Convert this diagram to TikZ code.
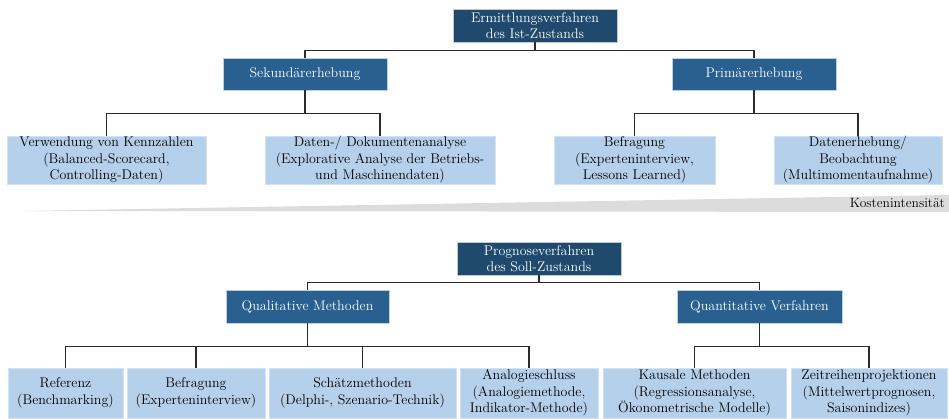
\documentclass[tikz,border=0pt]{standalone}
\usetikzlibrary{positioning}
\definecolor{darkblue}{HTML}{1F4A6D}
\definecolor{midblue}{HTML}{2A6090}
\definecolor{lightblue}{HTML}{B5D0EA}
\definecolor{wedgegray}{HTML}{DCDCDC}
\definecolor{linegray}{HTML}{2B2B2B}
\tikzstyle{box} = [rectangle, inner sep=0pt, align=center, font=\fontsize{14}{16.5}\selectfont]
\tikzstyle{root} = [box, fill=darkblue, draw=white!70!darkblue, text=white]
\tikzstyle{branch} = [box, fill=midblue, draw=white!70!midblue, text=white]
\tikzstyle{leaf} = [box, fill=lightblue, draw=white!40!lightblue, text=black, minimum height=48pt]
\tikzstyle{tree} = [draw=linegray, line width=1.2pt]

\begin{document}
\begin{tikzpicture}[x=1pt, y=-1pt]
\useasboundingbox (0,0) rectangle (949,419);

% Ist-Zustand
\node [root, minimum width=164pt, minimum height=33pt] (ist) at (535, 25.5) {Ermittlungsverfahren\\des Ist-Zustands};
\node [branch, minimum width=164pt, minimum height=32pt] (sek) at (305, 74) {Sekundärerhebung};
\node [branch, minimum width=164pt, minimum height=32pt] (prim) at (754, 74) {Primärerhebung};

\node [leaf, minimum width=199pt] (kenn) at (106.5, 160) {Verwendung von Kennzahlen\\(Balanced-Scorecard,\\Controlling-Daten)};
\node [leaf, minimum width=230pt] (dok) at (380, 160) {Daten-/ Dokumentenanalyse\\(Explorative Analyse der Betriebs-\\und Maschinendaten)};
\node [leaf, minimum width=161pt] (befr) at (634.5, 160) {Befragung\\(Experteninterview,\\Lessons Learned)};
\node [leaf, minimum width=168pt] (beob) at (858, 160) {Datenerhebung/\\Beobachtung\\(Multimomentaufnahme)};

\draw [tree] (ist.south) -- ++(0,8) -| (sek.north);
\draw [tree] (ist.south) -- ++(0,8) -| (prim.north);
\draw [tree] (sek.south) -- ++(0,23) -| (kenn.north);
\draw [tree] (sek.south) -- ++(0,23) -| (dok.north);
\draw [tree] (prim.south) -- ++(0,23) -| (befr.north);
\draw [tree] (prim.south) -- ++(0,23) -| (beob.north);

% cost wedge
\fill [wedgegray] (23,211) -- (949,195) -- (949,212) -- cycle;
\node [anchor=east, inner sep=0pt, font=\fontsize{13.5}{15}\selectfont] (kosten) at (945, 203) {Kostenintensität};

% Soll-Zustand
\node [root, minimum width=164pt, minimum height=33pt] (prog) at (539, 258.5) {Prognoseverfahren\\des Soll-Zustands};
\node [branch, minimum width=163pt, minimum height=33pt] (qual) at (307.5, 306.5) {Qualitative Methoden};
\node [branch, minimum width=165pt, minimum height=33pt] (quant) at (759.5, 306.5) {Quantitative Verfahren};

\node [leaf, minimum width=115pt, minimum height=50pt] (ref) at (65.5, 393) {Referenz\\(Benchmarking)};
\node [leaf, minimum width=138pt, minimum height=50pt] (expert) at (196, 393) {Befragung\\(Experteninterview)};
\node [leaf, minimum width=187pt, minimum height=50pt] (schaetz) at (362.5, 393) {Schätzmethoden\\(Delphi-, Szenario-Technik)};
\node [leaf, minimum width=138pt, minimum height=50pt] (analog) at (529, 393) {Analogieschluss\\(Analogiemethode,\\Indikator-Methode)};
\node [leaf, minimum width=183pt, minimum height=50pt] (kausal) at (694.5, 393) {Kausale Methoden\\(Regressionsanalyse,\\Ökonometrische Modelle)};
\node [leaf, minimum width=156pt, minimum height=50pt] (zeit) at (869, 393) {Zeitreihenprojektionen\\(Mittelwertprognosen,\\Saisonindizes)};

\draw [tree] (prog.south) -- ++(0,7) -| (qual.north);
\draw [tree] (prog.south) -- ++(0,7) -| (quant.north);
\foreach \leafname in {ref, expert, schaetz, analog}
  \draw [tree] (qual.south) -- ++(0,23) -| (\leafname.north);
\foreach \leafname in {kausal, zeit}
  \draw [tree] (quant.south) -- ++(0,23) -| (\leafname.north);
\end{tikzpicture}
\end{document}
